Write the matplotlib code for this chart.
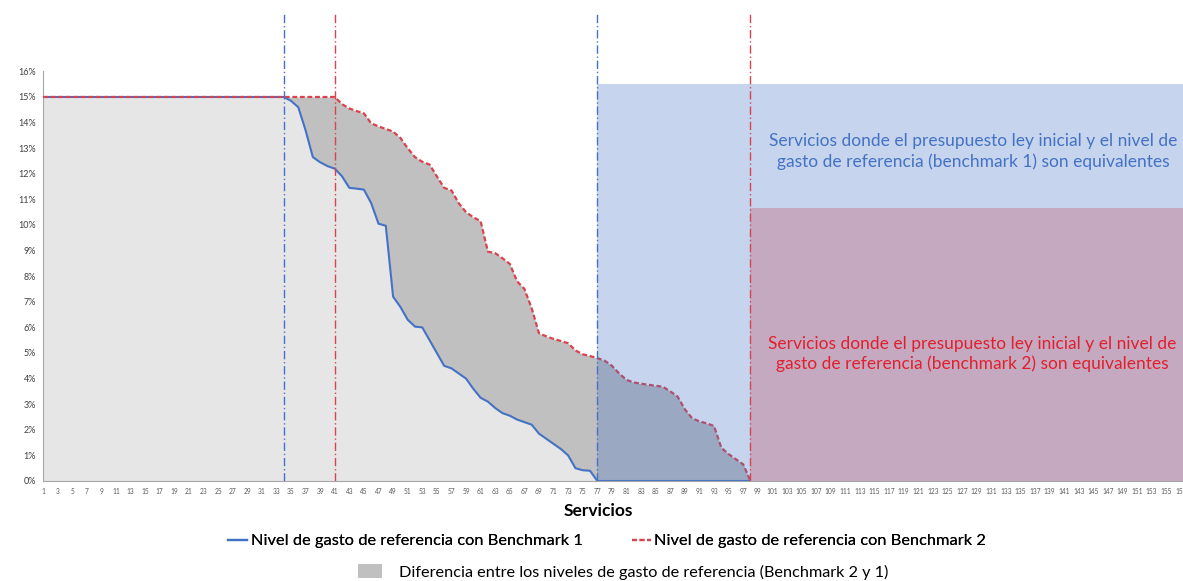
import matplotlib
matplotlib.use("Agg")
import matplotlib.pyplot as plt
from matplotlib.lines import Line2D
from matplotlib.patches import Patch
import numpy as np

plt.rcParams['font.family'] = ['Lato', 'DejaVu Sans']

# ---- data (percent) ----
n_services = 157
services = list(range(1, n_services + 1))

bench1_decline = [15.0, 14.85, 14.6, 13.7, 12.65, 12.45, 12.3, 12.2, 11.9, 11.45,
                  11.42, 11.38, 10.85, 10.05, 9.97, 7.2, 6.8, 6.3, 6.03, 6.0,
                  5.5, 5.0, 4.5, 4.4, 4.2, 4.0, 3.6, 3.25, 3.1, 2.85,
                  2.65, 2.55, 2.4, 2.3, 2.2, 1.85, 1.65, 1.45, 1.25, 1.0,
                  0.5, 0.42, 0.4, 0.0]          # services 34..77
bench2_decline = [15.0, 14.72, 14.55, 14.45, 14.36, 13.97, 13.85, 13.75, 13.65, 13.4,
                  13.0, 12.65, 12.47, 12.36, 11.9, 11.45, 11.35, 10.85, 10.5, 10.3,
                  10.15, 8.96, 8.9, 8.7, 8.48, 7.8, 7.5, 6.75, 5.77, 5.65,
                  5.55, 5.47, 5.38, 5.1, 4.95, 4.88, 4.8, 4.7, 4.5, 4.2,
                  3.95, 3.85, 3.8, 3.76, 3.72, 3.68, 3.5, 3.3, 2.8, 2.45,
                  2.33, 2.25, 2.15, 1.3, 1.05, 0.85, 0.65, 0.0]   # services 41..98

bench1 = [15.0] * 33 + bench1_decline + [0.0] * (n_services - 33 - len(bench1_decline))
bench2 = [15.0] * 40 + bench2_decline + [0.0] * (n_services - 40 - len(bench2_decline))

bench1_start, bench1_zero = 34, 77
bench2_start, bench2_zero = 41, 98
zone1_top = 15.5
zone2_top = 10.65

ytick_vals = list(range(0, 17))
ytick_labels = [f"{v}%" for v in ytick_vals]
xtick_vals = list(range(1, n_services + 1, 2))

zone1_text = "Servicios donde el presupuesto ley inicial y el nivel de\ngasto de referencia (benchmark 1) son equivalentes"
zone2_text = "Servicios donde el presupuesto ley inicial y el nivel de\ngasto de referencia (benchmark 2) son equivalentes"
label_b1 = "Nivel de gasto de referencia con Benchmark 1"
label_b2 = "Nivel de gasto de referencia con Benchmark 2"
label_diff = "Diferencia entre los niveles de gasto de referencia (Benchmark 2 y 1)"

# ---- colors ----
c_blue = '#4472C4'
c_red = '#D9434E'
c_light = '#E6E6E6'
c_dark = '#C0C0C0'
c_purple = '#C5A9C0'

fig = plt.figure(figsize=(11.83, 5.81), dpi=100)
ax = fig.add_axes([43 / 1183, 100 / 581, 1140 / 1183, 468.5 / 581])

x = np.array(services)
b1 = np.array(bench1)
b2 = np.array(bench2)

ax.fill_between(x, 0, b1, color=c_light, lw=0, zorder=1)
ax.fill_between(x, b1, b2, color=c_dark, lw=0, zorder=1)

ax.plot(x, b1, color=c_blue, lw=1.5, zorder=3)
ax.plot(x, b2, color=c_red, lw=1.6, ls=(0, (2.2, 1.2)), zorder=3)

xmax = n_services + 0.3
ax.fill_between([bench1_zero, xmax], 0, zone1_top, color=c_blue, alpha=0.3, lw=0, zorder=4)
ax.fill_between([bench2_zero, xmax], 0, zone2_top, color=c_purple, lw=0, zorder=5)

ytop = 18.3
for xv, col in [(bench1_start, c_blue), (bench1_zero, c_blue),
                (bench2_start, c_red), (bench2_zero, c_red)]:
    ax.plot([xv, xv], [0, ytop], color=col, lw=1.0, ls=(0, (6, 2, 1, 2)), zorder=6)

ax.text(128.6, 12.87, zone1_text, color=c_blue, fontsize=12.5,
        ha='center', va='center', linespacing=1.32, zorder=7)
ax.text(128.4, 4.96, zone2_text, color='#E0202E', fontsize=12.5,
        ha='center', va='center', linespacing=1.32, zorder=7)

ax.set_xlim(1, xmax)
ax.set_ylim(0, ytop)
ax.set_yticks(ytick_vals)
ax.set_yticklabels(ytick_labels, fontsize=6.5, color='#404040')
ax.set_xticks(xtick_vals)
ax.set_xticklabels([str(v) for v in xtick_vals], fontsize=4.8, color='#595959')
ax.tick_params(length=0, pad=5)
for s in ['top', 'right']:
    ax.spines[s].set_visible(False)
ax.spines['left'].set_bounds(0, 16)
ax.spines['left'].set_color('#A6A6A6')
ax.spines['bottom'].set_color('#A6A6A6')
ax.spines['bottom'].set_zorder(8)

fig.text(598 / 1183, 1 - 511 / 581, "Servicios", fontsize=12.5, fontweight='bold',
         ha='center', va='center')

h1 = Line2D([], [], color=c_blue, lw=1.6)
h2 = Line2D([], [], color=c_red, lw=1.6, ls=(0, (2.2, 1.2)))
leg1 = fig.legend([h1, h2], [label_b1, label_b2], loc='center', ncol=2,
                  bbox_to_anchor=(607 / 1183, 1 - 541 / 581), frameon=False,
                  fontsize=11.8, handlelength=1.2, handletextpad=0.2, columnspacing=3.0)
fig.add_artist(leg1)
h3 = Patch(facecolor=c_dark, edgecolor='none')
fig.legend([h3], [label_diff], loc='center',
           bbox_to_anchor=(623 / 1183, 1 - 572 / 581), frameon=False,
           fontsize=11.7, handlelength=1.5, handleheight=0.9, handletextpad=1.0)

fig.savefig('out.png', dpi=100)
